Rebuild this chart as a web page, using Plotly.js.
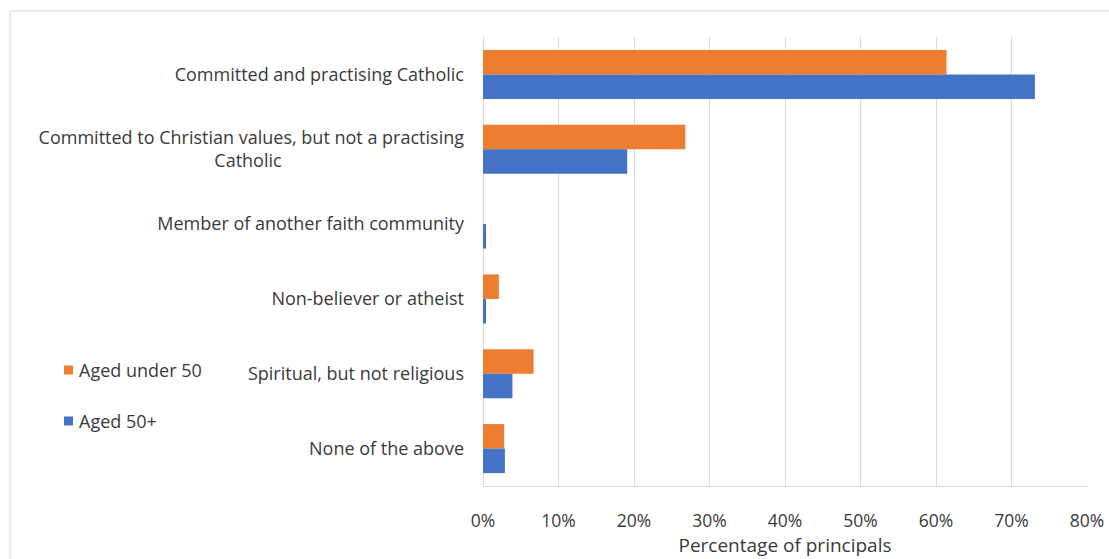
<!DOCTYPE html>
<html>
<head>
<meta charset="utf-8">
<script src="https://cdn.plot.ly/plotly-3.0.1.min.js"></script>
<style>
  html, body { margin: 0; padding: 0; background: #ffffff; }
  #chart { width: 1109px; height: 559px; }
</style>
</head>
<body>
<div id="chart"></div>
<script>
// ---- data ----
var categories = [
  "Committed and practising Catholic",
  "Committed to Christian values, but not a practising Catholic",
  "Member of another faith community",
  "Non-believer or atheist",
  "Spiritual, but not religious",
  "None of the above"
];
var tickLabels = [
  "Committed and practising Catholic",
  "Committed to Christian values, but not a practising<br>Catholic",
  "Member of another faith community",
  "Non-believer or atheist",
  "Spiritual, but not religious",
  "None of the above"
];
var seriesNames = ["Aged under 50", "Aged 50+"];
var agedUnder50 = [61.4, 26.8, 0.0, 2.1, 6.7, 2.8];
var aged50plus  = [73.1, 19.1, 0.4, 0.4, 3.9, 2.9];
var xTicks = [0, 10, 20, 30, 40, 50, 60, 70, 80];

// ---- styling ----
var colors = ["#ED7D31", "#4472C4"];
var FONT = "'Open Sans', Lato, sans-serif";
var TXT = "#3a3a3a";

// pad second line of wrapped label so it appears centred under the first
var NB = "\u00A0";
function pad(n) { var s = ""; for (var i = 0; i < n; i++) s += NB; return s; }
var shownTicks = tickLabels.map(function (t) {
  return t.indexOf("<br>") >= 0 ? t + pad(39) : t;
});

var traces = [
  { type: "bar", orientation: "h", name: seriesNames[0], y: categories, x: agedUnder50,
    marker: { color: colors[0] }, showlegend: false, hoverinfo: "x+y" },
  { type: "bar", orientation: "h", name: seriesNames[1], y: categories, x: aged50plus,
    marker: { color: colors[1] }, showlegend: false, hoverinfo: "x+y" }
];

var W = 1109, H = 559;
var M = { l: 483, r: 22, t: 37, b: 73 };
var pw = W - M.l - M.r, ph = H - M.t - M.b;
function px(x) { return (x - M.l) / pw; }
function py(y) { return (H - M.b - y) / ph; }

var shapes = [
  // outer chart border
  { type: "rect", xref: "paper", yref: "paper",
    x0: px(10), x1: px(1125), y0: py(575), y1: py(11),
    line: { color: "#d9d9d9", width: 1 }, fillcolor: "rgba(0,0,0,0)", layer: "below" }
];
var annotations = [];
var legendY = [370, 421];
for (var i = 0; i < seriesNames.length; i++) {
  shapes.push({ type: "rect", xref: "paper", yref: "paper",
    x0: px(64), x1: px(73), y0: py(legendY[i] + 4.5), y1: py(legendY[i] - 4.5),
    line: { width: 0 }, fillcolor: colors[i] });
  annotations.push({ xref: "paper", yref: "paper", x: px(77), y: py(legendY[i]),
    xanchor: "left", yanchor: "middle", showarrow: false, text: seriesNames[i],
    font: { family: FONT, size: 18, color: TXT } });
}

var layout = {
  width: W, height: H,
  margin: M,
  paper_bgcolor: "#ffffff", plot_bgcolor: "#ffffff",
  barmode: "group",
  bargap: 0.345,
  bargroupgap: 0,
  font: { family: FONT, size: 18, color: TXT },
  xaxis: {
    range: [0, 80],
    tickvals: xTicks,
    ticktext: xTicks.map(function (v) { return v + "%"; }),
    showgrid: true, gridcolor: "#d9d9d9", gridwidth: 1,
    zeroline: true, zerolinecolor: "#d9d9d9", zerolinewidth: 1,
    showline: true, linecolor: "#d9d9d9", linewidth: 1,
    ticks: "", ticklabelstandoff: 19,
    tickfont: { family: FONT, size: 17.5, color: TXT },
    title: { text: "Percentage of principals", standoff: 7,
             font: { family: FONT, size: 19, color: TXT } },
    fixedrange: true
  },
  yaxis: {
    autorange: "reversed",
    type: "category",
    tickvals: categories,
    ticktext: shownTicks,
    showgrid: false, zeroline: false, showline: false,
    ticks: "", ticklabelstandoff: 18,
    tickfont: { family: FONT, size: 18, color: TXT },
    fixedrange: true
  },
  shapes: shapes,
  annotations: annotations,
  showlegend: false
};

Plotly.newPlot("chart", traces, layout, { displayModeBar: false, staticPlot: true });
</script>
</body>
</html>
